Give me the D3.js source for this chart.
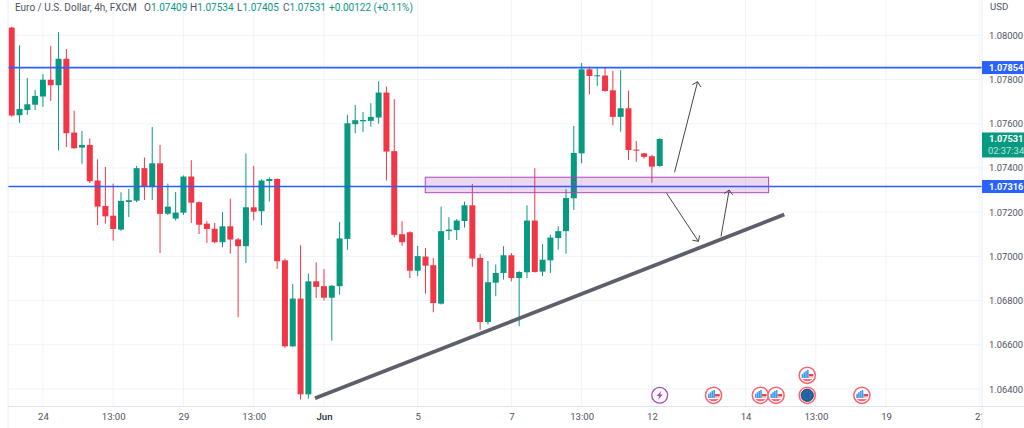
<!DOCTYPE html>
<html>
<head>
<meta charset="utf-8">
<script src="https://cdn.jsdelivr.net/npm/d3@7"></script>
<style>
  html, body { margin: 0; padding: 0; background: #fff; overflow: hidden; }
  svg { display: block; }
  text { font-family: Roboto, sans-serif; }
</style>
</head>
<body>
<svg id="chart" width="1024" height="428"></svg>
<script>
const opens = [
  1.08035, 1.07638, 1.07662, 1.07686, 1.07723, 1.07799, 1.07774, 1.07894, 1.07560, 1.07492, 1.07504, 1.07343,
  1.07228, 1.07184, 1.07121, 1.07246, 1.07252, 1.07399, 1.07315, 1.07421, 1.07193, 1.07171, 1.07198, 1.07361,
  1.07245, 1.07148, 1.07125, 1.07064, 1.07136, 1.07077, 1.07046, 1.07222, 1.07204, 1.07341, 1.07350, 1.06982,
  1.06593, 1.06809, 1.06376, 1.06887, 1.06865, 1.06813, 1.06865, 1.07079, 1.07598, 1.07611, 1.07613, 1.07628,
  1.07741, 1.07476, 1.07100, 1.07109, 1.06935, 1.06999, 1.06960, 1.06786, 1.07114, 1.07119, 1.07160, 1.07231,
  1.06993, 1.06703, 1.06881, 1.06925, 1.07005, 1.06902, 1.06928, 1.07162, 1.06931, 1.06982, 1.07083, 1.07114,
  1.07263, 1.07466, 1.07846, 1.07815, 1.07818, 1.07751, 1.07631, 1.07670, 1.07483, 1.07466, 1.07453, 1.07409
];
const highs = [
  1.08038, 1.07955, 1.07807, 1.07753, 1.07825, 1.07952, 1.08014, 1.07938, 1.07659, 1.07567, 1.07534, 1.07439,
  1.07404, 1.07329, 1.07290, 1.07305, 1.07409, 1.07447, 1.07585, 1.07504, 1.07329, 1.07291, 1.07366, 1.07435,
  1.07248, 1.07159, 1.07151, 1.07200, 1.07261, 1.07083, 1.07466, 1.07409, 1.07349, 1.07358, 1.07353, 1.06990,
  1.06875, 1.07050, 1.06922, 1.06973, 1.06943, 1.06871, 1.07155, 1.07640, 1.07685, 1.07653, 1.07693, 1.07792,
  1.07768, 1.07711, 1.07159, 1.07113, 1.07047, 1.07037, 1.06993, 1.07225, 1.07177, 1.07169, 1.07248, 1.07328,
  1.07011, 1.06979, 1.06963, 1.07046, 1.07015, 1.06933, 1.07231, 1.07399, 1.07056, 1.07098, 1.07136, 1.07304,
  1.07590, 1.07874, 1.07858, 1.07856, 1.07856, 1.07839, 1.07843, 1.07750, 1.07522, 1.07468, 1.07460, 1.07534
];
const lows = [
  1.07632, 1.07604, 1.07640, 1.07662, 1.07677, 1.07703, 1.07480, 1.07494, 1.07487, 1.07419, 1.07331, 1.07141,
  1.07148, 1.07071, 1.07116, 1.07178, 1.07245, 1.07255, 1.07255, 1.07015, 1.07187, 1.07162, 1.07187, 1.07151,
  1.07101, 1.07061, 1.07058, 1.07041, 1.07012, 1.06725, 1.06970, 1.07163, 1.07141, 1.07248, 1.06943, 1.06586,
  1.06590, 1.06352, 1.06356, 1.06812, 1.06801, 1.06619, 1.06827, 1.07029, 1.07557, 1.07563, 1.07587, 1.07600,
  1.07343, 1.07086, 1.07048, 1.06902, 1.06910, 1.06831, 1.06747, 1.06782, 1.07074, 1.07074, 1.07130, 1.06953,
  1.06668, 1.06691, 1.06820, 1.06895, 1.06887, 1.06684, 1.06902, 1.06927, 1.06910, 1.06925, 1.07030, 1.07012,
  1.07210, 1.07421, 1.07733, 1.07771, 1.07745, 1.07593, 1.07564, 1.07436, 1.07428, 1.07442, 1.07333, 1.07405
];
const closes = [
  1.07637, 1.07667, 1.07688, 1.07726, 1.07799, 1.07774, 1.07894, 1.07557, 1.07489, 1.07504, 1.07340, 1.07225,
  1.07181, 1.07124, 1.07251, 1.07254, 1.07399, 1.07315, 1.07421, 1.07192, 1.07225, 1.07198, 1.07361, 1.07243,
  1.07143, 1.07124, 1.07064, 1.07136, 1.07076, 1.07046, 1.07222, 1.07202, 1.07343, 1.07350, 1.06978, 1.06593,
  1.06809, 1.06376, 1.06887, 1.06862, 1.06813, 1.06867, 1.07081, 1.07602, 1.07616, 1.07617, 1.07631, 1.07741,
  1.07474, 1.07097, 1.07064, 1.06935, 1.07001, 1.06958, 1.06789, 1.07114, 1.07121, 1.07162, 1.07231, 1.06990,
  1.06703, 1.06883, 1.06925, 1.07005, 1.06902, 1.06929, 1.07162, 1.06929, 1.06985, 1.07085, 1.07114, 1.07264,
  1.07468, 1.07846, 1.07816, 1.07819, 1.07748, 1.07631, 1.07670, 1.07481, 1.07478, 1.07450, 1.07406, 1.07531
];

const yTicks = [1.08, 1.078, 1.076, 1.074, 1.072, 1.07, 1.068, 1.066, 1.064];
const xTicks = [4, 13, 22, 31, 40, 52, 64, 73, 82, 94, 103, 112, 124];
const xLabels = ["24", "13:00", "29", "13:00", "Jun", "5", "7", "13:00", "12", "14", "13:00", "19", "21"];
const levels = [1.07854, 1.07316];

// drawings, as [bar index, price]
const zone = [[52.97, 1.07358], [96.95, 1.07288]];
const trendLine = [[38.85, 1.06358], [98.96, 1.07189]];
const arrows = [
  [[84.9, 1.07380], [87.85, 1.07790]],
  [[83.9, 1.07285], [87.95, 1.07068]],
  [[90.85, 1.07090], [91.9, 1.07300]]
];

// calendar events along the bottom of the pane
const flagBars = [89.9, 95.9, 97.9, 108.9];
const flagBarsUpper = [101.9];
const euBars = [101.9];
const boltBars = [83];

const width = 1024;
const height = 428;
const paneLeft = 8;
const paneRight = 982;
const paneBottom = 406.5;
const green = "#089981";
const red = "#f23645";
const blue = "#2962ff";

const x = d3.scaleLinear().domain([0, 124]).range([11.7, 979.8]);
const y = d3.scaleLinear().domain([1.064, 1.08]).range([389, 35.3]);

const svg = d3.select("#chart");

svg.append("defs").append("clipPath").attr("id", "time-clip")
  .append("rect").attr("x", 0).attr("y", paneBottom).attr("width", paneRight).attr("height", 30);

// grid
svg.append("g").selectAll("line").data(yTicks).enter().append("line")
  .attr("x1", paneLeft).attr("x2", paneRight)
  .attr("y1", (d) => y(d)).attr("y2", (d) => y(d))
  .attr("stroke", "#f0f3fa").attr("stroke-width", 1);
svg.append("g").selectAll("line").data(xTicks).enter().append("line")
  .attr("x1", (d) => x(d)).attr("x2", (d) => x(d))
  .attr("y1", 0).attr("y2", paneBottom)
  .attr("stroke", "#f0f3fa").attr("stroke-width", 1);

// candles
const bars = svg.append("g").selectAll("g").data(opens).enter().append("g");
bars.append("line")
  .attr("x1", (d, i) => x(i)).attr("x2", (d, i) => x(i))
  .attr("y1", (d, i) => y(highs[i])).attr("y2", (d, i) => y(lows[i]))
  .attr("stroke", (d, i) => (closes[i] >= d ? green : red))
  .attr("stroke-width", 1);
bars.append("rect")
  .attr("x", (d, i) => x(i) - 3)
  .attr("width", 6)
  .attr("y", (d, i) => y(Math.max(d, closes[i])))
  .attr("height", (d, i) => Math.max(1, Math.abs(y(d) - y(closes[i]))))
  .attr("fill", (d, i) => (closes[i] >= d ? green : red));

// horizontal levels
svg.append("g").selectAll("line").data(levels).enter().append("line")
  .attr("x1", paneLeft).attr("x2", paneRight)
  .attr("y1", (d) => y(d)).attr("y2", (d) => y(d))
  .attr("stroke", blue).attr("stroke-width", 1.6);

// purple zone
svg.append("rect")
  .attr("x", x(zone[0][0]))
  .attr("y", y(zone[0][1]))
  .attr("width", x(zone[1][0]) - x(zone[0][0]))
  .attr("height", y(zone[1][1]) - y(zone[0][1]))
  .attr("fill", "#9c27b0").attr("fill-opacity", 0.18)
  .attr("stroke", "#ab47bc").attr("stroke-width", 1);

// trend line
svg.append("line")
  .attr("x1", x(trendLine[0][0])).attr("y1", y(trendLine[0][1]))
  .attr("x2", x(trendLine[1][0])).attr("y2", y(trendLine[1][1]))
  .attr("stroke", "#5d606b").attr("stroke-width", 3.8);

// arrows
const arrowG = svg.append("g").attr("fill", "none").attr("stroke", "#434651").attr("stroke-width", 1);
arrows.forEach((a) => {
  const x1 = x(a[0][0]);
  const y1 = y(a[0][1]);
  const x2 = x(a[1][0]);
  const y2 = y(a[1][1]);
  const angle = Math.atan2(y2 - y1, x2 - x1);
  const headPath = d3.path();
  headPath.moveTo(x1, y1);
  headPath.lineTo(x2, y2);
  [-0.8, 0.8].forEach((turn) => {
    headPath.moveTo(x2 - 6 * Math.cos(angle + turn), y2 - 6 * Math.sin(angle + turn));
    headPath.lineTo(x2, y2);
  });
  arrowG.append("path").attr("d", headPath.toString());
});

// events
const eventY = 395.3;
const eventYUpper = 375.3;

function drawFlag(bar, cy) {
  const g = svg.append("g").attr("transform", `translate(${x(bar)},${cy})`);
  g.append("circle").attr("r", 8.1).attr("fill", "#fff").attr("stroke", "#f7646f").attr("stroke-width", 1.5);
  const id = "flag-" + Math.round(bar * 10) + "-" + Math.round(cy);
  g.append("clipPath").attr("id", id).append("circle").attr("r", 6.2);
  const inner = g.append("g").attr("clip-path", `url(#${id})`);
  inner.append("rect").attr("x", -6.2).attr("y", 1.2).attr("width", 12.4).attr("height", 1.5).attr("fill", "#fbc5c9");
  inner.append("rect").attr("x", 1.5).attr("y", -1.2).attr("width", 5).attr("height", 2.2).attr("fill", "#f23645");
  inner.append("rect").attr("x", -6.2).attr("y", 3.8).attr("width", 12.4).attr("height", 2.4).attr("fill", "#f7646f");
  [[-5.6, -1.4], [-3.8, -3], [-2, -4.4], [-0.2, -5.4]].forEach((b) => {
    inner.append("rect").attr("x", b[0]).attr("y", b[1]).attr("width", 1.6).attr("height", 2.6 - b[1]).attr("fill", "#3c9cf0");
  });
}

flagBars.forEach((b) => drawFlag(b, eventY));
flagBarsUpper.forEach((b) => drawFlag(b, eventYUpper));

euBars.forEach((b) => {
  const g = svg.append("g").attr("transform", `translate(${x(b)},${eventY})`);
  g.append("circle").attr("r", 8.1).attr("fill", "#fff").attr("stroke", "#f7646f").attr("stroke-width", 1.5);
  g.append("circle").attr("r", 6.2).attr("fill", "#1c5fa8").attr("stroke", "#1f3a5f").attr("stroke-width", 0.8);
  g.append("circle").attr("r", 3.6).attr("fill", "none").attr("stroke", "#7f8a5a").attr("stroke-width", 1).attr("stroke-dasharray", "1 1.3");
});

boltBars.forEach((b) => {
  const g = svg.append("g").attr("transform", `translate(${x(b)},${eventY})`);
  g.append("circle").attr("r", 7.9).attr("fill", "#fff").attr("stroke", "#ab47bc").attr("stroke-width", 1.3);
  g.append("path").attr("d", "M1.6,-4.6 L-3,0.8 L-0.4,0.8 L-1.6,4.6 L3,-0.8 L0.4,-0.8 Z").attr("fill", "#ab47bc");
});

// pane borders
svg.append("line").attr("x1", paneLeft).attr("x2", paneLeft).attr("y1", 0).attr("y2", height).attr("stroke", "#e9ecf2");
svg.append("line").attr("x1", paneRight).attr("x2", paneRight).attr("y1", 0).attr("y2", height).attr("stroke", "#e9ecf2");
svg.append("line").attr("x1", paneLeft).attr("x2", width).attr("y1", paneBottom).attr("y2", paneBottom).attr("stroke", "#e0e3eb");

// axes
const yAxis = svg.append("g")
  .attr("transform", `translate(${paneRight},0)`)
  .call(d3.axisRight(y).tickValues(yTicks).tickFormat(d3.format(".5f")).tickSize(0).tickPadding(7));
yAxis.select(".domain").remove();
yAxis.selectAll("text").attr("font-size", 9.4).attr("fill", "#50535e").style("font-family", "Roboto, sans-serif");

const xAxis = svg.append("g")
  .attr("clip-path", "url(#time-clip)")
  .append("g")
  .attr("transform", `translate(0,${paneBottom})`)
  .call(d3.axisBottom(x).tickValues(xTicks).tickFormat((d, i) => xLabels[i]).tickSize(0).tickPadding(7));
xAxis.select(".domain").remove();
xAxis.selectAll("text")
  .attr("font-size", 9.6)
  .attr("fill", (d, i) => (xLabels[i] === "Jun" ? "#2a2e39" : "#50535e"))
  .attr("font-weight", (d, i) => (xLabels[i] === "Jun" ? 500 : 400))
  .style("font-family", "Roboto, sans-serif");

// price tags
levels.forEach((level) => {
  svg.append("rect").attr("x", paneRight).attr("y", y(level) - 6.5).attr("width", 42).attr("height", 13).attr("fill", blue);
  svg.append("text").attr("x", 989).attr("y", y(level)).attr("dy", "0.35em")
    .attr("font-size", 9.2).attr("font-weight", 700).attr("fill", "#fff").text(level.toFixed(5));
});

const last = closes[closes.length - 1];
svg.append("rect").attr("x", paneRight).attr("y", y(last) - 6.5).attr("width", 42).attr("height", 25).attr("fill", green);
svg.append("text").attr("x", 989).attr("y", y(last)).attr("dy", "0.35em")
  .attr("font-size", 9.2).attr("font-weight", 700).attr("fill", "#fff").text(last.toFixed(5));
svg.append("text").attr("x", 988).attr("y", y(last) + 12.2).attr("dy", "0.35em")
  .attr("font-size", 9.4).attr("fill", "#bfe6de").text("02:37:34");

svg.append("text").attr("x", 990).attr("y", 9.5).attr("font-size", 9.6).attr("fill", "#50535e").text("USD");

// legend
const legendY = 11;
svg.append("text").attr("x", 15).attr("y", legendY).attr("font-size", 10).attr("fill", "#50535e")
  .text("Euro / U.S. Dollar, 4h, FXCM");
const legendParts = [
  { at: 144, key: "O", value: opens[83].toFixed(5) },
  { at: 190, key: "H", value: highs[83].toFixed(5) },
  { at: 237, key: "L", value: lows[83].toFixed(5) },
  { at: 283, key: "C", value: closes[83].toFixed(5) }
];
legendParts.forEach((p) => {
  const t = svg.append("text").attr("x", p.at).attr("y", legendY).attr("font-size", 10);
  t.append("tspan").attr("fill", "#50535e").text(p.key);
  t.append("tspan").attr("fill", green).text(p.value);
});
svg.append("text").attr("x", 329).attr("y", legendY).attr("font-size", 10).attr("fill", green)
  .text("+0.00122 (+0.11%)");
</script>
</body>
</html>
